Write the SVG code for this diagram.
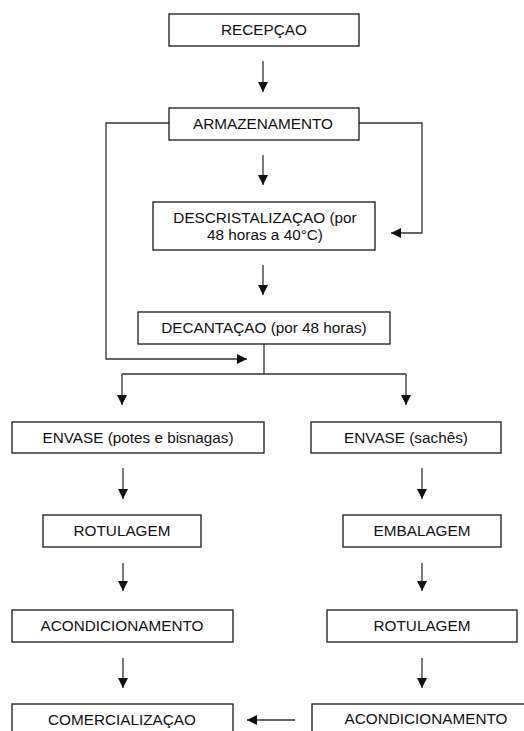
<svg xmlns="http://www.w3.org/2000/svg" width="524" height="731" viewBox="0 0 524 731">
<style>
.box{fill:#fff;stroke:#1a1a1a;stroke-width:1.3}
.t{font-family:"Liberation Sans",Arial,sans-serif;font-size:15.3px;fill:#111;text-anchor:middle}
.c{fill:none;stroke:#333;stroke-width:1.3}
</style>
<defs>
<marker id="ah" viewBox="0 0 10 10" refX="10" refY="5" markerWidth="10" markerHeight="10" markerUnits="userSpaceOnUse" orient="auto">
<path d="M0,0 L10,5 L0,10 z" fill="#111"/>
</marker>
</defs>
<rect width="524" height="731" fill="#fff"/>
<g id="connectors">
<path class="c" d="M263,61 V92" marker-end="url(#ah)"/>
<path class="c" d="M263,155 V185" marker-end="url(#ah)"/>
<path class="c" d="M263,265 V295" marker-end="url(#ah)"/>
<path class="c" d="M359,123 H422 V233 H391" marker-end="url(#ah)"/>
<path class="c" d="M169,123 H106 V359 H247" marker-end="url(#ah)"/>
<path class="c" d="M264,344 V374 M122,374 H406"/>
<path class="c" d="M122,374 V405" marker-end="url(#ah)"/>
<path class="c" d="M406,374 V405" marker-end="url(#ah)"/>
<path class="c" d="M123,468 V499" marker-end="url(#ah)"/>
<path class="c" d="M422,468 V499" marker-end="url(#ah)"/>
<path class="c" d="M123,563 V591" marker-end="url(#ah)"/>
<path class="c" d="M422,563 V591" marker-end="url(#ah)"/>
<path class="c" d="M123,658 V688" marker-end="url(#ah)"/>
<path class="c" d="M422,658 V688" marker-end="url(#ah)"/>
<path class="c" d="M295,720 H247" marker-end="url(#ah)"/>
</g>
<g id="recepcao"><rect class="box" x="169" y="14" width="190" height="32"/><text class="t" x="264" y="35">RECEPÇAO</text></g>
<g id="armazenamento"><rect class="box" x="169" y="108" width="190" height="32"/><text class="t" x="263" y="129">ARMAZENAMENTO</text></g>
<g id="descristalizacao"><rect class="box" x="153" y="202" width="222" height="48"/><text class="t" x="265" y="223">DESCRISTALIZAÇAO (por</text><text class="t" x="265" y="240">48 horas a 40°C)</text></g>
<g id="decantacao"><rect class="box" x="138" y="312" width="252" height="32"/><text class="t" x="264" y="333">DECANTAÇAO (por 48 horas)</text></g>
<g id="envase-potes"><rect class="box" x="12" y="422" width="252" height="31"/><text class="t" x="138" y="443">ENVASE (potes e bisnagas)</text></g>
<g id="envase-saches"><rect class="box" x="311" y="422" width="190" height="31"/><text class="t" x="406" y="443">ENVASE (sachês)</text></g>
<g id="rotulagem-1"><rect class="box" x="43" y="515" width="158" height="32"/><text class="t" x="122" y="536">ROTULAGEM</text></g>
<g id="embalagem"><rect class="box" x="343" y="515" width="158" height="32"/><text class="t" x="422" y="536">EMBALAGEM</text></g>
<g id="acondicionamento-1"><rect class="box" x="12" y="610" width="221" height="32"/><text class="t" x="122" y="631">ACONDICIONAMENTO</text></g>
<g id="rotulagem-2"><rect class="box" x="327" y="610" width="190" height="32"/><text class="t" x="422" y="631">ROTULAGEM</text></g>
<g id="comercializacao"><rect class="box" x="12" y="704" width="221" height="40"/><text class="t" x="122" y="725">COMERCIALIZAÇAO</text></g>
<g id="acondicionamento-2"><rect class="box" x="312" y="704" width="228" height="40"/><text class="t" x="426" y="724">ACONDICIONAMENTO</text></g>
</svg>
